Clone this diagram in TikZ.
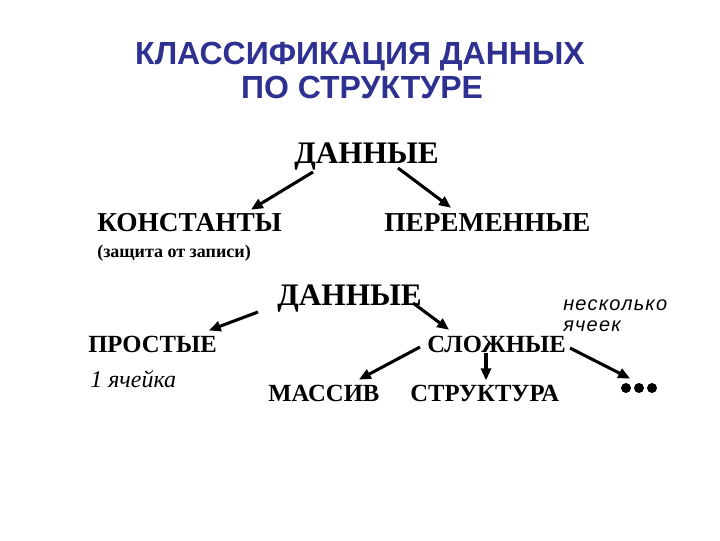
\documentclass[tikz,border=0pt]{standalone}
\usepackage{fontspec}
\setmainfont{Liberation Serif}
\newfontfamily\titlefont{Liberation Sans}
\newfontfamily\notefont[LetterSpace=6]{Liberation Sans}
\usetikzlibrary{arrows.meta}
\definecolor{titleblue}{HTML}{2E3192}
\tikzset{
  txt/.style={inner sep=0pt, anchor=base west, font=\bfseries\fontsize{#1}{#1}\selectfont},
  note/.style={inner sep=0pt, anchor=base west, font=\notefont\itshape\fontsize{15pt}{15pt}\selectfont},
  ttl/.style={inner sep=0pt, anchor=base, text=titleblue, font=\titlefont\bfseries\fontsize{24pt}{24pt}\selectfont},
  arr/.style={line width=2.3pt, -{Triangle[length=9pt,width=7.5pt]}, shorten >=-1pt},
  dot/.style={circle, fill=black, inner sep=0pt, minimum size=7.5pt}
}
\begin{document}
\begin{tikzpicture}[x=0.75pt,y=-0.75pt]
\useasboundingbox (0,0) rectangle (720,540);
% title
\node[ttl] (t1) at (360,64) {КЛАССИФИКАЦИЯ ДАННЫХ};
\node[ttl] (t2) at (362,98) {ПО СТРУКТУРЕ};
% first tree
\node[txt=23.5pt] (d1) at (294,163) {ДАННЫЕ};
\node[txt=20.5pt] (k) at (97,231) {КОНСТАНТЫ};
\node[txt=20.5pt] (p) at (384,231) {ПЕРЕМЕННЫЕ};
\node[txt=13.5pt] (z) at (97,257) {(защита от записи)};
% second tree
\node[txt=23.5pt] (d2) at (277,305) {ДАННЫЕ};
\node[txt=18.5pt] (pr) at (88,352) {ПРОСТЫЕ};
\node[txt=18.5pt] (sl) at (427,352) {СЛОЖНЫЕ};
\node[inner sep=0pt, anchor=base west, font=\itshape\fontsize{18pt}{18pt}\selectfont] (one) at (90,387) {1 ячейка};
\node[note] (nes1) at (563,310) {несколько};
\node[note] (nes2) at (563,331) {ячеек};
\node[txt=18.5pt] (m) at (268,401) {МАССИВ};
\node[txt=18.5pt] (st) at (410,401) {СТРУКТУРА};
\node[dot] (dA) at (626,388) {};
\node[dot] (dots) at (639,388) {};
\node[dot] (dC) at (652,388) {};
% arrows
\draw[arr] ([shift={(19,9)}]d1.base west) -- ([shift={(155,-22)}]k.base west);
\draw[arr] ([shift={(104,5)}]d1.base west) -- ([shift={(66,-24)}]p.base west);
\draw[arr] ([shift={(-19,7)}]d2.base west) -- ([shift={(122,-22)}]pr.base west);
\draw[arr] ([shift={(136,-2)}]d2.base west) -- ([shift={(21,-23)}]sl.base west);
\draw[arr] ([shift={(-7,-5)}]sl.base west) -- ([shift={(92,-22)}]m.base west);
\draw[arr] ([shift={(59,1)}]sl.base west) -- ([shift={(76,-22)}]st.base west);
\draw[arr] ([shift={(143,-4)}]sl.base west) -- ([shift={(-10,-10)}]dots.center);
\end{tikzpicture}
\end{document}
